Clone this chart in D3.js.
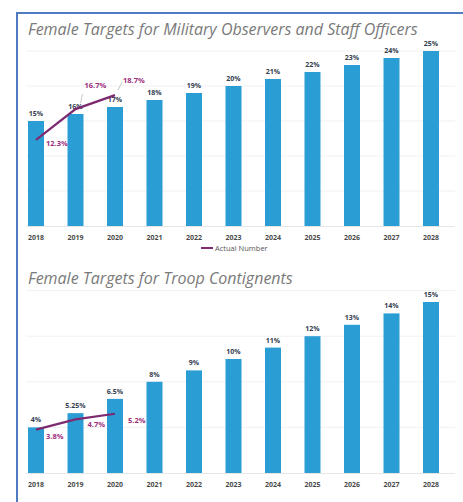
<!DOCTYPE html>
<html>
<head>
<meta charset="utf-8">
<script src="https://cdn.jsdelivr.net/npm/d3@7"></script>
<style>
  body { margin: 0; background: #fff; }
  text { font-family: "Open Sans", "Liberation Sans", sans-serif; }
</style>
</head>
<body>
<div id="chart"></div>
<script>
// Years on the x axis (shared by both panels)
const years = ["2018", "2019", "2020", "2021", "2022", "2023", "2024", "2025", "2026", "2027", "2028"];

// Military observers and staff officers (%)
const observerTargets = [15, 16, 17, 18, 19, 20, 21, 22, 23, 24, 25];
const observerActual = [12.3, 16.7, 18.7];

// Troop contingents (%)
const troopTargets = [4, 5.25, 6.5, 8, 9, 10, 11, 12, 13, 14, 15];
const troopActual = [3.8, 4.7, 5.2];

const W = 463, H = 502;
const barColor = "#2a9dd5";
const lineColor = "#7d2a70";
const actualText = "#9c2f7c";

const svg = d3.select("#chart").append("svg")
    .attr("width", W)
    .attr("height", H);

// Blue frame (left + top edges visible)
svg.append("path")
    .attr("d", `M17,${H} L17,13 L${W},13`)
    .attr("fill", "none")
    .attr("stroke", "#4d7cc3")
    .attr("stroke-width", 2);

const x = d3.scaleBand()
    .domain(years)
    .range([16.25, 450.75])
    .paddingInner(0.595)
    .paddingOuter(0.2975);

function fmt(v) { return v + "%"; }

function drawPanel(opt) {
    const g = svg.append("g");
    const y = d3.scaleLinear().domain([0, opt.max]).range([opt.bottom, opt.top]);

    // Title
    g.append("text")
        .attr("x", 28)
        .attr("y", opt.titleY)
        .style("font-size", "16px")
        .style("font-style", "italic")
        .style("fill", "#7a7a7a")
        .text(opt.title);

    // Faint gridlines
    g.selectAll(".grid")
        .data(opt.gridTicks)
        .enter().append("line")
        .attr("x1", 26).attr("x2", 455)
        .attr("y1", d => y(d)).attr("y2", d => y(d))
        .attr("stroke", "#f1f1f1")
        .attr("stroke-width", 1);

    // Baseline
    g.append("line")
        .attr("x1", 26).attr("x2", 455)
        .attr("y1", y(0) + 0.5).attr("y2", y(0) + 0.5)
        .attr("stroke", "#e6e6e6");

    // Bars
    g.selectAll(".bar")
        .data(opt.targets)
        .enter().append("rect")
        .attr("x", (d, i) => x(years[i]))
        .attr("y", d => y(d))
        .attr("width", x.bandwidth())
        .attr("height", d => y(0) - y(d))
        .attr("fill", barColor);

    // Bar labels
    g.selectAll(".blabel")
        .data(opt.targets)
        .enter().append("text")
        .attr("x", (d, i) => x(years[i]) + x.bandwidth() / 2)
        .attr("y", d => y(d) - 5)
        .attr("text-anchor", "middle")
        .style("font-size", "7px")
        .style("font-weight", "bold")
        .style("fill", "#34404f")
        .text(fmt);

    // X axis labels
    g.selectAll(".xlabel")
        .data(years)
        .enter().append("text")
        .attr("x", d => x(d) + x.bandwidth() / 2)
        .attr("y", opt.bottom + 14)
        .attr("text-anchor", "middle")
        .style("font-size", "7px")
        .style("font-weight", "bold")
        .style("fill", "#4a4a4a")
        .text(d => d);

    // Actual line
    const line = d3.line()
        .x((d, i) => x(years[i]) + x.bandwidth() / 2)
        .y(d => y(d));

    g.append("path")
        .datum(opt.actual)
        .attr("fill", "none")
        .attr("stroke", lineColor)
        .attr("stroke-width", 2.2)
        .attr("d", line);

    // Actual labels
    opt.actual.forEach((v, i) => {
        const cx = x(years[i]) + x.bandwidth() / 2;
        const off = opt.labelOffsets[i];
        if (off.leader) {
            g.append("line")
                .attr("x1", cx + off.leader[0]).attr("y1", y(v) + off.leader[1])
                .attr("x2", cx + off.leader[2]).attr("y2", y(v) + off.leader[3])
                .attr("stroke", "#bbbbbb")
                .attr("stroke-width", 0.8);
        }
        g.append("text")
            .attr("x", cx + off.dx)
            .attr("y", y(v) + off.dy)
            .style("font-size", "7.5px")
            .style("font-weight", "bold")
            .style("fill", actualText)
            .text(fmt(v));
    });
}

drawPanel({
    title: "Female Targets for Military Observers and Staff Officers",
    titleY: 35,
    top: 51, bottom: 226, max: 25,
    gridTicks: [5, 10, 15, 20, 25],
    targets: observerTargets,
    actual: observerActual,
    labelOffsets: [
        {dx: 10, dy: 6},
        {dx: 9, dy: -21, leader: [7, -15, 5, -6]},
        {dx: 8, dy: -12, leader: [7, -13, 3, -5]}
    ]
});

// Legend for the actual line
svg.append("line")
    .attr("x1", 201).attr("x2", 213)
    .attr("y1", 248).attr("y2", 248)
    .attr("stroke", lineColor)
    .attr("stroke-width", 2);
svg.append("text")
    .attr("x", 215)
    .attr("y", 251)
    .style("font-size", "7.5px")
    .style("fill", "#555")
    .text("Actual Number");

drawPanel({
    title: "Female Targets for Troop Contignents",
    titleY: 284,
    top: 302, bottom: 473, max: 15,
    gridTicks: [4, 8, 12, 16],
    targets: troopTargets,
    actual: troopActual,
    labelOffsets: [
        {dx: 10, dy: 9},
        {dx: 12, dy: 8},
        {dx: 13, dy: 9}
    ]
});
</script>
</body>
</html>
